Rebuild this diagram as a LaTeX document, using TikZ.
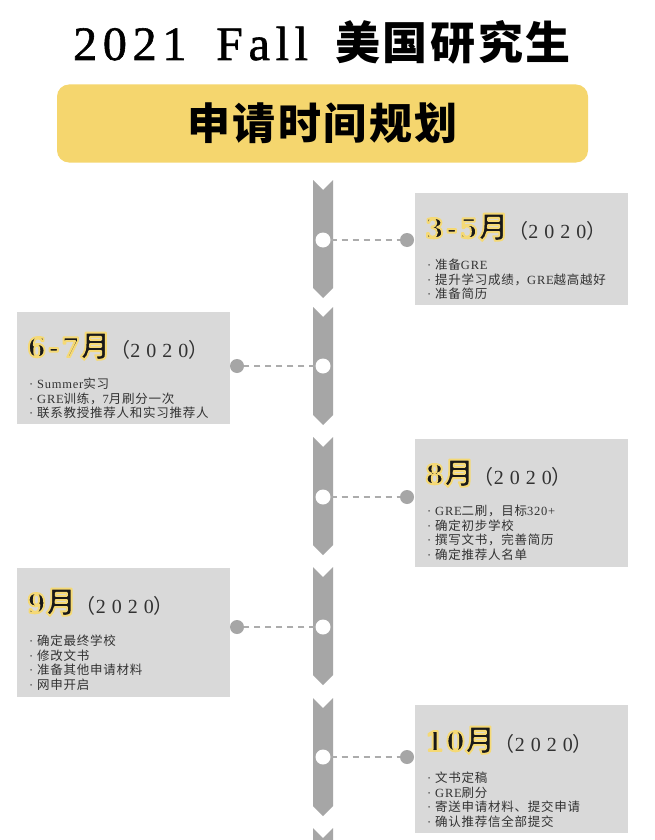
\documentclass[tikz,border=0pt]{standalone}
\usepackage{fontspec}
\setmainfont[LetterSpace=6]{Liberation Serif}
\newfontfamily\zhfont[LetterSpace=6]{Noto Sans CJK SC}
\newfontfamily\titlefont[LetterSpace=12, FakeBold=1.2]{Liberation Serif}
\newfontfamily\yearfont[LetterSpace=30]{Liberation Serif}
\newfontfamily\headfont[LetterSpace=8]{DejaVu Serif}
\definecolor{PlanYellow}{RGB}{245, 214, 110}
\definecolor{PlanCard}{RGB}{217, 217, 217}
\definecolor{PlanSpine}{RGB}{166, 166, 166}
\definecolor{PlanDash}{RGB}{172, 172, 172}
\definecolor{PlanInk}{RGB}{25, 25, 25}
\definecolor{PlanText}{RGB}{50, 50, 50}
\newcommand{\zh}[1]{{\zhfont #1}}
\newcommand{\mdigits}[1]{{\headfont\fontsize{27}{27}\selectfont #1}}
\newcommand{\glow}[1]{\special{pdf:literal 2 Tr 1.9 w 1 j 0.96 0.85 0.46 RG}#1\special{pdf:literal 0 Tr 0 G 0.4 w}}
\newcommand{\yeartag}{{\fontsize{20}{20}\selectfont\mdseries\color{PlanText}\zh{（}{\yearfont 2020}\zh{）}}}
\newcommand{\spineseg}[1]{\fill[PlanSpine] (313,#1) -- (323,#1+10) -- (333,#1)
        -- (333,#1+108) -- (323,#1+118) -- (313,#1+108) -- cycle;}

\begin{document}
\begin{tikzpicture}[x=1pt, y=-1pt,
        card/.style={fill=PlanCard, anchor=north west, minimum width=213pt, inner sep=0pt},
        hub/.style={circle, fill=white, minimum size=15pt, inner sep=0pt},
        pin/.style={circle, fill=PlanSpine, minimum size=14pt, inner sep=0pt},
        link/.style={PlanDash, line width=2pt, dash pattern=on 6pt off 5pt},
        month/.style={anchor=base west, inner sep=0pt, text=PlanInk,
                      font=\fontsize{30}{30}\selectfont\bfseries},
        tasks/.style={anchor=north west, inner sep=0pt, align=left, text=PlanText,
                      font=\fontsize{12.5}{14.5}\selectfont}]
        \fill[white] (0,0) rectangle (654,840);
        \useasboundingbox (0,0) rectangle (654,840);
        \node[anchor=base, inner sep=0pt, font=\fontsize{48}{48}\selectfont] (title) at (322,60)
             {{\titlefont 2021\hspace{12pt} Fall}\hspace{12pt} \zh{\fontsize{45}{45}\selectfont\bfseries 美国研究生}};
        \node[fill=PlanYellow, rounded corners=12pt, minimum width=531pt, minimum height=78pt,
              inner sep=0pt] (banner) at (322.5,123.5)
             {\zh{\fontsize{43}{43}\selectfont\bfseries 申请时间规划}};
        \begin{scope}
          \clip (0,0) rectangle (654,840);
          \spineseg{180}
          \spineseg{307}
          \spineseg{437}
          \spineseg{567}
          \spineseg{698}
          \spineseg{828}
        \end{scope}
        \node[card, minimum height=112pt] (card1) at (415,193) {};
        \node[card, minimum height=112pt] (card2) at (17,312) {};
        \node[card, minimum height=128pt] (card3) at (415,439) {};
        \node[card, minimum height=129pt] (card4) at (17,568) {};
        \node[card, minimum height=128pt] (card5) at (415,705) {};
        \node[hub] (hub1) at (323,240) {};
        \node[pin] (pin1) at (407,240) {};
        \node[hub] (hub2) at (323,366) {};
        \node[pin] (pin2) at (237,366) {};
        \node[hub] (hub3) at (323,497) {};
        \node[pin] (pin3) at (407,497) {};
        \node[hub] (hub4) at (323,627) {};
        \node[pin] (pin4) at (237,627) {};
        \node[hub] (hub5) at (323,757) {};
        \node[pin] (pin5) at (407,757) {};
        \draw[link] (hub1) -- (pin1);
        \draw[link] (hub2) -- (pin2);
        \draw[link] (hub3) -- (pin3);
        \draw[link] (hub4) -- (pin4);
        \draw[link] (hub5) -- (pin5);
        \node[month] (month1) at (425,238) {\glow{\mdigits{3-5}\zh{月}}\yeartag};
        \node[tasks] (tasks1) at (427,259)
             {·\ \zh{准备}GRE\\
              ·\ \zh{提升学习成绩，}GRE\zh{越高越好}\\
              ·\ \zh{准备简历}};
        \node[month] (month2) at (27,357) {\glow{\mdigits{6-7}\zh{月}}\yeartag};
        \node[tasks] (tasks2) at (29,378)
             {·\ Summer\zh{实习}\\
              ·\ GRE\zh{训练，}7\zh{月刷分一次}\\
              ·\ \zh{联系教授推荐人和实习推荐人}};
        \node[month] (month3) at (425,484) {\glow{\mdigits{8}\zh{月}}\yeartag};
        \node[tasks] (tasks3) at (427,505)
             {·\ GRE\zh{二刷，目标}320+\\
              ·\ \zh{确定初步学校}\\
              ·\ \zh{撰写文书，完善简历}\\
              ·\ \zh{确定推荐人名单}};
        \node[month] (month4) at (27,613) {\glow{\mdigits{9}\zh{月}}\yeartag};
        \node[tasks] (tasks4) at (29,635)
             {·\ \zh{确定最终学校}\\
              ·\ \zh{修改文书}\\
              ·\ \zh{准备其他申请材料}\\
              ·\ \zh{网申开启}};
        \node[month] (month5) at (425,751) {\glow{\mdigits{10}\zh{月}}\yeartag};
        \node[tasks] (tasks5) at (427,772)
             {·\ \zh{文书定稿}\\
              ·\ GRE\zh{刷分}\\
              ·\ \zh{寄送申请材料、提交申请}\\
              ·\ \zh{确认推荐信全部提交}};
      \end{tikzpicture}
\end{document}
